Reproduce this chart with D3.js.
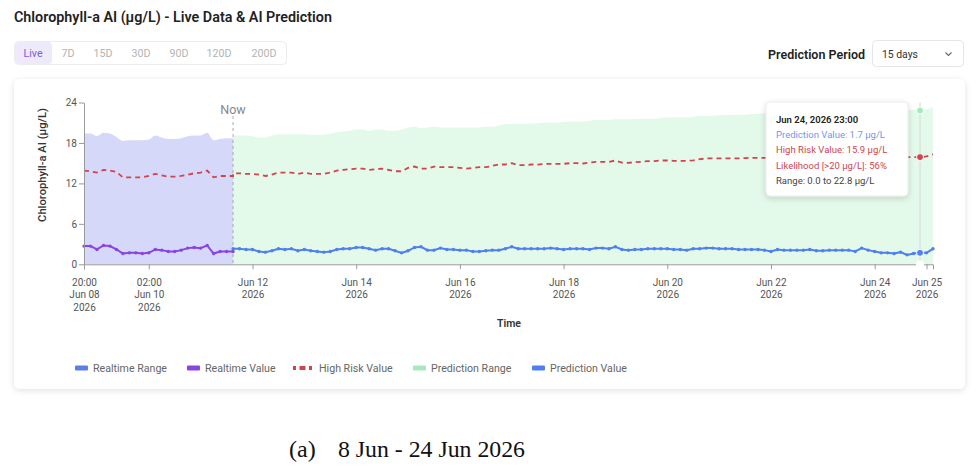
<!DOCTYPE html>
<html><head><meta charset="utf-8">
<script src="https://cdn.jsdelivr.net/npm/d3@7"></script>
<style>
html,body{margin:0;padding:0;background:#fff;}
svg{display:block;font-family:Roboto,"Noto Sans",sans-serif;}
</style></head><body>
<svg id="chart" width="980" height="470"></svg>
<script>
// ---------------- DATA ----------------
const liveStart = "2026-06-08T20:00";
const predStart = "2026-06-11T17:00";
const stepHours = 3;
const nowTime = "2026-06-11T17:00";
const hoverTime = "2026-06-24T23:00";

const liveValues = [2.7,2.7,2.2,2.8,2.7,2.2,1.6,1.7,1.7,1.6, 1.7,2.2,2.1,1.9,1.9,2.1,2.4,2.5,2.4,2.8, 1.6,1.9,1.9,1.9];
const liveUpper  = [19.4,19.4,19.0,19.5,19.4,18.9,18.3,18.4,18.4,18.4, 18.5,19.1,18.8,18.6,18.6,18.7,19.0,19.1,19.1,19.5, 18.4,18.6,18.7,18.7];
const highRiskLive = [13.9,13.8,13.6,14.0,13.9,13.7,12.9,12.9,12.9,12.9, 13.1,13.4,13.2,13.0,13.0,13.1,13.3,13.5,13.6,13.9, 12.9,13.1,13.1,13.1];

const predValues = [2.3,2.3,2.2,2.2,1.9,1.8,2.0,2.3,2.2,2.3, 2.0,2.2,2.0,1.9,1.8,1.9,2.2,2.3,2.3,2.5,
  2.5,2.3,2.1,2.3,2.3,2.0,1.7,2.0,2.5,2.6, 2.1,2.1,2.4,2.2,2.2,2.1,2.1,1.9,1.9,2.0,
  2.1,2.1,2.3,2.6,2.3,2.3,2.3,2.3,2.3,2.4, 2.3,2.2,2.3,2.3,2.3,2.2,2.4,2.4,2.3,2.6,
  2.2,2.1,2.2,2.2,2.3,2.3,2.3,2.3,2.2,2.2, 2.1,2.3,2.3,2.4,2.4,2.3,2.3,2.3,2.2,2.2,
  2.2,2.2,2.1,1.9,2.2,2.1,2.1,2.1,2.1,2.2, 2.0,2.0,2.1,2.1,2.1,2.1,1.9,2.4,2.1,1.9,
  1.7,1.7,1.6,1.8,1.4,1.6,1.7,1.7,2.3];
const predUpper = [19.1,19.1,19.1,19.0,18.8,18.8,19.1,19.3,19.3,19.3, 19.3,19.3,19.2,19.2,19.2,19.4,19.6,19.7,19.8,20.0,
  20.0,19.8,20.0,20.0,19.8,19.8,20.0,20.3,20.4,20.2, 20.3,20.4,20.3,20.3,20.3,20.3,20.3,20.3,20.3,20.4,
  20.4,20.6,20.8,20.8,20.8,20.8,20.9,20.9,21.0,21.0, 21.0,21.1,21.2,21.2,21.2,21.3,21.4,21.4,21.4,21.5,
  21.5,21.5,21.5,21.6,21.6,21.6,21.7,21.8,21.8,21.8, 21.8,21.9,22.0,22.0,22.0,22.1,22.1,22.2,22.2,22.2,
  22.3,22.3,22.4,22.4,22.4,22.4,22.5,22.5,22.5,22.6, 22.6,22.6,22.7,22.7,22.7,22.8,22.8,22.8,22.8,22.9,
  22.9,22.9,22.9,22.9,22.9,22.9,22.8,23.0,23.3];
const highRiskPred = [13.5,13.5,13.4,13.4,13.3,13.1,13.3,13.6,13.6,13.6, 13.4,13.6,13.4,13.4,13.4,13.6,13.9,14.0,14.1,14.2,
  14.2,14.0,14.1,14.2,14.0,13.8,13.8,14.3,14.5,14.2, 14.2,14.5,14.4,14.4,14.4,14.3,14.2,14.3,14.4,14.4,
  14.6,14.8,14.8,15.0,14.7,14.7,14.8,14.8,14.9,14.9, 14.9,14.9,15.0,15.0,14.95,15.1,15.2,15.2,15.2,15.4,
  15.1,15.05,15.15,15.2,15.3,15.3,15.4,15.4,15.35,15.35, 15.35,15.4,15.6,15.7,15.7,15.7,15.7,15.7,15.7,15.75,
  15.8,15.8,15.8,15.8,15.8,15.8,15.8,15.85,15.85,15.8, 15.85,15.9,15.9,15.85,15.9,15.9,15.9,15.9,15.95,15.9,
  15.9,15.95,15.9,15.9,15.9,15.9,15.9,16.0,16.3];

const hoverLikelihood = 56;
const hoverRangeLow = 0.0;

const yTicks = [0, 6, 12, 18, 24];
const xTickDates = ["2026-06-08T20:00","2026-06-10T02:00","2026-06-12T00:00","2026-06-14T00:00","2026-06-16T00:00",
  "2026-06-18T00:00","2026-06-20T00:00","2026-06-22T00:00","2026-06-24T00:00","2026-06-25T00:00"];
const xTickLabels = [["20:00","Jun 08","2026"],["02:00","Jun 10","2026"],["Jun 12","2026"],["Jun 14","2026"],["Jun 16","2026"],
  ["Jun 18","2026"],["Jun 20","2026"],["Jun 22","2026"],["Jun 24","2026"],["Jun 25","2026"]];
const dayTickTzShiftHours = [0,0,2,2,2,2,2,2,2,2]; // display-zone shift of date ticks

const periodButtons = ["Live","7D","15D","30D","90D","120D","200D"];
const legendItems = ["Realtime Range","Realtime Value","High Risk Value","Prediction Range","Prediction Value"];

// ---------------- SETUP ----------------
const parse = d3.timeParse("%Y-%m-%dT%H:%M");
const addH = (d, h) => new Date(d.getTime() + h * 3600e3);
const liveDates = liveValues.map((_, i) => addH(parse(liveStart), i * stepHours));
const predDates = predValues.map((_, i) => addH(parse(predStart), i * stepHours));
const live = liveDates.map((d, i) => ({d, v: liveValues[i], up: liveUpper[i], hr: highRiskLive[i]}));
const pred = predDates.map((d, i) => ({d, v: predValues[i], up: predUpper[i], hr: highRiskPred[i]}));

const svg = d3.select("#chart");
const C = {live:"#8a44e6", pred:"#4f7ff0", risk:"#d1434f", liveArea:"#d5d8f8", predArea:"#e3f9e9",
  liveLeg:"#5b7ee8", predLeg:"#a6eabb", axis:"#9a9a9a", text:"#555"};

const defs = svg.append("defs");
const sh = defs.append("filter").attr("id","shadow").attr("x","-5%").attr("y","-10%").attr("width","110%").attr("height","130%");
sh.append("feDropShadow").attr("dx",0).attr("dy",1.5).attr("stdDeviation",3).attr("flood-color","#000").attr("flood-opacity",0.12);
const sh2 = defs.append("filter").attr("id","shadow2").attr("x","-20%").attr("y","-20%").attr("width","140%").attr("height","150%");
sh2.append("feDropShadow").attr("dx",0).attr("dy",2).attr("stdDeviation",3).attr("flood-color","#000").attr("flood-opacity",0.15);

function fit(sel, target) {
  const fs = parseFloat(sel.attr("font-size"));
  const w = sel.node().getComputedTextLength();
  const nf = fs * target / w;
  sel.attr("font-size", nf.toFixed(2));
  return nf;
}

// Title
const title = svg.append("text").attr("x",14).attr("y",22).attr("font-size",14).attr("font-weight",600)
  .attr("fill","#222").text("Chlorophyll-a AI (μg/L) - Live Data & AI Prediction");
fit(title, 318);

// Buttons
svg.append("rect").attr("x",14.5).attr("y",41.5).attr("width",272).attr("height",23).attr("rx",4)
  .attr("fill","#fff").attr("stroke","#ececec");
svg.append("rect").attr("x",15).attr("y",42).attr("width",37).attr("height",22).attr("rx",3.5).attr("fill","#eeeafc");
const btnX = [33,68,103,141,179,219,264];
const btns = svg.append("g").selectAll("text").data(periodButtons).join("text")
  .attr("x",(d,i)=>btnX[i]).attr("y",57).attr("text-anchor","middle").attr("font-size",11)
  .attr("fill",(d,i)=> i===0 ? "#7c5ce0" : "#b3b3b3").text(d=>d);
const bfs = fit(btns.filter((d,i)=>i===6), 25);
btns.attr("font-size", bfs.toFixed(2));

// Prediction Period
const pp = svg.append("text").attr("x",865).attr("y",58.5).attr("text-anchor","end").attr("font-size",12.5)
  .attr("font-weight",600).attr("fill","#222").text("Prediction Period");
fit(pp, 97);
svg.append("rect").attr("x",872.5).attr("y",40.5).attr("width",91).attr("height",26).attr("rx",4)
  .attr("fill","#fff").attr("stroke","#e6e6e6");
const sd = svg.append("text").attr("x",882).attr("y",58).attr("font-size",11.5).attr("fill","#333").text("15 days");
fit(sd, 36);
svg.append("path").attr("d","M945.5,52.5 L948.5,55.5 L951.5,52.5").attr("fill","none").attr("stroke","#666").attr("stroke-width",1.1);

// Card
svg.append("rect").attr("x",14).attr("y",79).attr("width",951).attr("height",310).attr("rx",6)
  .attr("fill","#fff").attr("filter","url(#shadow)");

// Scales
const x = d3.scaleTime().domain([liveDates[0], predDates[predDates.length-1]]).range([84, 933]);
const y = d3.scaleLinear().domain([0, 24]).range([264.3, 102.5]);

const g = svg.append("g");

// Areas
const area = d3.area().x(d=>x(d.d)).y0(y(0)).y1(d=>y(d.up)).curve(d3.curveMonotoneX);
g.append("path").datum(live).attr("d",area).attr("fill",C.liveArea);
g.append("path").datum(pred).attr("d",area).attr("fill",C.predArea);

// Now line
const xNow = x(parse(nowTime));
g.append("line").attr("x1",xNow).attr("x2",xNow).attr("y1",116).attr("y2",y(0))
  .attr("stroke","#aaa").attr("stroke-dasharray","3,3");
g.append("text").attr("x",xNow).attr("y",114).attr("text-anchor","middle").attr("font-size",12.5)
  .attr("fill","#888").text("Now");

// High risk line (dashed)
const riskLine = d3.line().x(d=>x(d.d)).y(d=>y(d.hr));
g.append("path").datum(live.concat(pred)).attr("d",riskLine).attr("fill","none")
  .attr("stroke",C.risk).attr("stroke-width",1.8).attr("stroke-dasharray","5,4");

// Value lines
const vLine = d3.line().x(d=>x(d.d)).y(d=>y(d.v));
g.append("path").datum(live).attr("d",vLine).attr("fill","none").attr("stroke",C.live).attr("stroke-width",2);
g.append("path").datum(pred).attr("d",vLine).attr("fill","none").attr("stroke",C.pred).attr("stroke-width",2);
g.append("g").selectAll("circle").data(live).join("circle").attr("cx",d=>x(d.d)).attr("cy",d=>y(d.v)).attr("r",1.7).attr("fill",C.live);
g.append("g").selectAll("circle").data(pred).join("circle").attr("cx",d=>x(d.d)).attr("cy",d=>y(d.v)).attr("r",1.7).attr("fill",C.pred);

// Axes
const xTickDateObjs = xTickDates.map((s,i)=>addH(parse(s), dayTickTzShiftHours[i]));
const xAxis = g.append("g").attr("transform",`translate(0,${y(0)})`)
  .call(d3.axisBottom(x).tickValues(xTickDateObjs).tickFormat("").tickSizeOuter(0).tickSize(5));
xAxis.select(".domain").attr("stroke",C.axis);
xAxis.selectAll(".tick line").attr("stroke",C.axis);
const tickTexts = xAxis.selectAll(".tick").append("text").attr("fill",C.text).attr("font-size",10)
  .attr("text-anchor","middle").attr("y",21.5);
tickTexts.each(function(d,i){
  const t = d3.select(this);
  xTickLabels[i].forEach((s,k)=> t.append("tspan").attr("x",0).attr("dy", k===0?0:12.5).text(s));
});
const tfs = fit(d3.select(tickTexts.nodes()[2]).select("tspan"), 26.7);
tickTexts.attr("font-size", tfs.toFixed(2));

const yAxis = g.append("g").attr("transform","translate(84,0)")
  .call(d3.axisLeft(y).tickValues(yTicks).tickSize(5).tickSizeOuter(0));
yAxis.select(".domain").attr("stroke",C.axis);
yAxis.selectAll(".tick line").attr("stroke",C.axis);
yAxis.selectAll(".tick text").attr("fill",C.text).attr("font-size",tfs.toFixed(2)).attr("x",-7);
yAxis.attr("font-family",null);
xAxis.attr("font-family",null);

const yt = svg.append("text").attr("transform","translate(46,165) rotate(-90)").attr("text-anchor","middle")
  .attr("font-size",11).attr("font-weight",500).attr("fill","#333").text("Chlorophyll-a AI (μg/L)");
fit(yt, 114);
const xt = svg.append("text").attr("x",509).attr("y",327).attr("text-anchor","middle").attr("font-size",11)
  .attr("font-weight",600).attr("fill","#333").text("Time");
fit(xt, 24);

// Hover crosshair
const hd = parse(hoverTime);
const hp = pred.find(p => +p.d === +hd);
const xh = x(hd);
g.append("line").attr("x1",xh).attr("x2",xh).attr("y1",y(24)).attr("y2",y(0)).attr("stroke","#dbe5de").attr("stroke-width",1.5);
g.append("circle").attr("cx",xh).attr("cy",y(hp.up)).attr("r",3.5).attr("fill",C.predLeg).attr("stroke","#fff").attr("stroke-width",1);
g.append("circle").attr("cx",xh).attr("cy",y(hp.hr)).attr("r",3.5).attr("fill",C.risk).attr("stroke","#fff").attr("stroke-width",1);
g.append("circle").attr("cx",xh).attr("cy",y(hp.v)).attr("r",3.5).attr("fill",C.pred).attr("stroke","#fff").attr("stroke-width",1);
g.append("circle").attr("cx",xh).attr("cy",y(0)).attr("r",4).attr("fill","#fff");

// Tooltip
const tt = svg.append("g");
tt.append("rect").attr("x",766).attr("y",102).attr("width",142).attr("height",94).attr("rx",4)
  .attr("fill","#fff").attr("stroke","#ececec").attr("filter","url(#shadow2)");
const fmtT = d3.timeFormat("%b %d, %Y %H:%M");
const ttLines = [
  {t: fmtT(hd), c:"#222", w:600},
  {t: `Prediction Value: ${hp.v.toFixed(1)} μg/L`, c:"#7297ee", w:400},
  {t: `High Risk Value: ${hp.hr.toFixed(1)} μg/L`, c:"#d1434f", w:400},
  {t: `Likelihood [>20 μg/L]: ${hoverLikelihood}%`, c:"#d1434f", w:400},
  {t: `Range: ${hoverRangeLow.toFixed(1)} to ${hp.up.toFixed(1)} μg/L`, c:"#444", w:400}
];
const ttBase = [122.5,138,153.2,168.5,183.7];
const ttT = tt.selectAll("text").data(ttLines).join("text").attr("x",776).attr("y",(d,i)=>ttBase[i])
  .attr("font-size",9.5).attr("fill",d=>d.c).attr("font-weight",d=>d.w).text(d=>d.t);
const tfz = fit(d3.select(ttT.nodes()[3]), 111);
ttT.attr("font-size", tfz.toFixed(2));

// Legend
const legX = [75,187,293,413,532];
const lg = svg.append("g");
legendItems.forEach((name,i)=>{
  const x0 = legX[i];
  if (i===2) {
    lg.append("line").attr("x1",x0).attr("x2",x0+20).attr("y1",368).attr("y2",368)
      .attr("stroke",C.risk).attr("stroke-width",4).attr("stroke-dasharray","3,3.5,6,3.5,3");
  } else {
    const col = [C.liveLeg, C.live, null, C.predLeg, C.pred][i];
    lg.append("rect").attr("x",x0).attr("y",365.5).attr("width",13).attr("height",5).attr("rx",1).attr("fill",col);
  }
  lg.append("text").attr("class","lt").attr("x", x0 + (i===2?26:18)).attr("y",372).attr("font-size",11)
    .attr("fill","#666").text(name);
});
const lts = lg.selectAll(".lt");
const lfs = fit(d3.select(lts.nodes()[0]), 74);
lts.attr("font-size", lfs.toFixed(2));

// Caption
svg.append("text").attr("x",289).attr("y",457).attr("font-family","'Liberation Serif','Times New Roman',serif")
  .attr("font-size",24).attr("fill","#111").text("(a)");
const cap = svg.append("text").attr("x",338).attr("y",457).attr("font-family","'Liberation Serif','Times New Roman',serif")
  .attr("font-size",24).attr("fill","#111").text("8 Jun - 24 Jun 2026");
fit(cap, 187);
</script>
</body></html>
